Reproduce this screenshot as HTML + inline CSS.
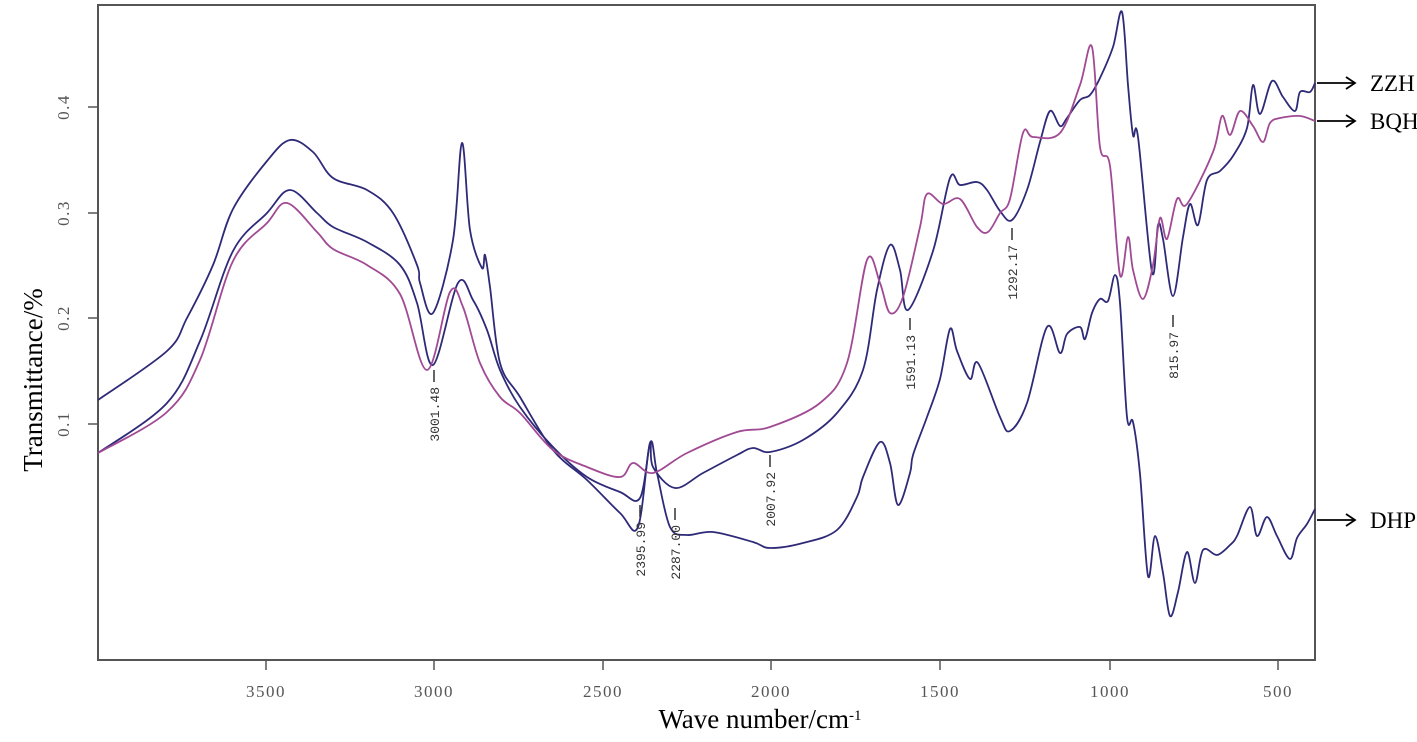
<!DOCTYPE html>
<html><head><meta charset="utf-8"><style>
html,body{margin:0;padding:0;background:#fff}
svg{display:block}
.tk{font-family:"Liberation Serif",serif;font-size:17px;fill:#555;letter-spacing:1.5px}
.an{font-family:"Liberation Mono",monospace;font-size:13px;fill:#333}
.lb{font-family:"Liberation Serif",serif;font-size:23px;fill:#000}
</style></head><body>
<svg id="s" width="1417" height="742" viewBox="0 0 1417 742" xmlns="http://www.w3.org/2000/svg">
<rect x="98" y="5" width="1217" height="655" fill="none" stroke="#555" stroke-width="2"/>
<g stroke="#555" stroke-width="1.5">
<line x1="88" y1="107" x2="98" y2="107"/><line x1="88" y1="213" x2="98" y2="213"/>
<line x1="88" y1="318" x2="98" y2="318"/><line x1="88" y1="424" x2="98" y2="424"/>
<line x1="266" y1="660" x2="266" y2="670"/><line x1="434" y1="660" x2="434" y2="670"/>
<line x1="603" y1="660" x2="603" y2="670"/><line x1="771" y1="660" x2="771" y2="670"/>
<line x1="940" y1="660" x2="940" y2="670"/><line x1="1110" y1="660" x2="1110" y2="670"/>
<line x1="1278" y1="660" x2="1278" y2="670"/>
</g>
<g class="tk" text-anchor="middle">
<text x="266" y="697">3500</text><text x="434" y="697">3000</text><text x="603" y="697">2500</text>
<text x="771" y="697">2000</text><text x="940" y="697">1500</text><text x="1110" y="697">1000</text>
<text x="1278" y="697">500</text>
<text transform="translate(69,107) rotate(-90)">0.4</text>
<text transform="translate(69,213) rotate(-90)">0.3</text>
<text transform="translate(69,318) rotate(-90)">0.2</text>
<text transform="translate(69,424) rotate(-90)">0.1</text>
</g>
<text class="lb" transform="translate(42,380) rotate(-90)" text-anchor="middle" style="font-size:27px">Transmittance/%</text>
<text class="lb" x="760" y="728" text-anchor="middle" style="font-size:27px">Wave number/cm<tspan font-size="15" dy="-8">-1</tspan></text>
<g fill="none" stroke-width="1.8" stroke-linejoin="round">
<polyline stroke="#2e2a78" points="98,400 167,351 187,318 213,265 233,209 267,161 290,140 313,152 333,178 367,190 393,213 417,265 420,283 433,313 453,240 462,143 470,230 482,268 485,255 490,287 500,363 520,397 553,450 587,480 620,513 638,527 650,443 657,473 670,527 687,535 713,532 753,542 770,548 803,543 837,530 857,497 863,477 880,442 890,463 898,505 910,473 913,455 927,417 940,379 950,329 957,351 970,379 978,363 1000,417 1010,431 1027,403 1047,327 1060,353 1067,334 1080,327 1085,339 1092,313 1100,299 1108,301 1115,275 1120,303 1127,417 1133,422 1140,474 1148,576 1155,536 1163,573 1170,616 1178,592 1187,552 1195,583 1203,550 1217,555 1230,545 1237,536 1250,507 1257,536 1267,517 1277,536 1290,559 1297,538 1307,524 1315,509"/>
<polyline stroke="#2e2a78" points="98,453 167,403 200,341 233,251 267,213 290,190 317,213 333,227 367,242 400,265 417,303 433,365 458,283 473,300 487,330 500,370 520,407 553,447 587,477 620,492 640,498 650,443 653,467 675,488 703,473 737,455 753,448 770,452 803,440 837,413 863,370 877,290 890,245 900,270 908,310 933,251 950,178 960,185 977,182 987,190 1000,211 1012,220 1027,190 1040,142 1050,111 1060,126 1067,118 1080,100 1090,95 1100,78 1113,47 1122,12 1128,85 1133,135 1138,137 1152,272 1158,225 1163,239 1173,296 1183,237 1190,204 1198,225 1207,180 1220,171 1233,156 1247,128 1253,85 1260,114 1272,81 1283,97 1295,111 1300,92 1310,92 1315,83"/>
<polyline stroke="#a04a94" points="98,453 167,412 200,360 233,261 267,223 287,203 317,232 333,249 367,265 400,294 427,370 450,292 463,307 480,363 500,397 520,413 553,450 587,467 620,477 633,463 653,473 687,453 737,432 770,427 820,403 847,363 867,260 880,283 890,313 903,297 920,227 927,194 943,204 960,199 977,227 988,232 1000,213 1010,199 1023,133 1033,137 1060,133 1080,85 1092,47 1100,147 1110,166 1120,275 1128,237 1133,270 1143,299 1153,265 1160,218 1167,239 1177,199 1187,204 1213,152 1222,116 1230,135 1240,111 1253,126 1263,142 1270,123 1280,118 1300,116 1315,121"/>
</g>
<g stroke="#333" stroke-width="1.5">
<line x1="434" y1="370" x2="434" y2="382"/><line x1="640" y1="505" x2="640" y2="517"/>
<line x1="675" y1="508" x2="675" y2="520"/><line x1="770" y1="455" x2="770" y2="467"/>
<line x1="910" y1="318" x2="910" y2="330"/><line x1="1012" y1="228" x2="1012" y2="240"/>
<line x1="1173" y1="315" x2="1173" y2="327"/>
</g>
<g class="an" text-anchor="end">
<text transform="translate(439,387) rotate(-90)">3001.48</text>
<text transform="translate(645,522) rotate(-90)">2395.99</text>
<text transform="translate(680,525) rotate(-90)">2287.00</text>
<text transform="translate(775,472) rotate(-90)">2007.92</text>
<text transform="translate(915,335) rotate(-90)">1591.13</text>
<text transform="translate(1017,245) rotate(-90)">1292.17</text>
<text transform="translate(1178,332) rotate(-90)">815.97</text>
</g>
<g stroke="#000" stroke-width="1.8" fill="none">
<line x1="1317" y1="83" x2="1355" y2="83"/><polyline points="1346,77 1355,83 1346,89"/>
<line x1="1317" y1="121" x2="1355" y2="121"/><polyline points="1346,115 1355,121 1346,127"/>
<line x1="1317" y1="520" x2="1355" y2="520"/><polyline points="1346,514 1355,520 1346,526"/>
</g>
<g class="lb">
<text x="1370" y="91">ZZH</text><text x="1370" y="129">BQH</text><text x="1370" y="528">DHP</text>
</g>
</svg>
<script>
(function(){
var ns="http://www.w3.org/2000/svg";
var pls=document.querySelectorAll("g[fill=none][stroke-width='1.8'] polyline");
for(var k=0;k<pls.length;k++){
 var pl=pls[k];var p=pl.getAttribute("points").trim().split(/\s+/).map(function(s){return s.split(",").map(Number)});
 if(p.length<10)continue;
 var d="M"+p[0][0]+","+p[0][1];
 for(var i=0;i<p.length-1;i++){
  var p0=p[i-1]||p[i],p1=p[i],p2=p[i+1],p3=p[i+2]||p2;
  var c1x=p1[0]+(p2[0]-p0[0])/6,c1y=p1[1]+(p2[1]-p0[1])/6;
  var c2x=p2[0]-(p3[0]-p1[0])/6,c2y=p2[1]-(p3[1]-p1[1])/6;
  d+=" C"+c1x.toFixed(1)+","+c1y.toFixed(1)+" "+c2x.toFixed(1)+","+c2y.toFixed(1)+" "+p2[0]+","+p2[1];
 }
 var path=document.createElementNS(ns,"path");
 path.setAttribute("d",d);path.setAttribute("stroke",pl.getAttribute("stroke"));
 pl.parentNode.replaceChild(path,pl);
}
})();
</script>
</body></html>
